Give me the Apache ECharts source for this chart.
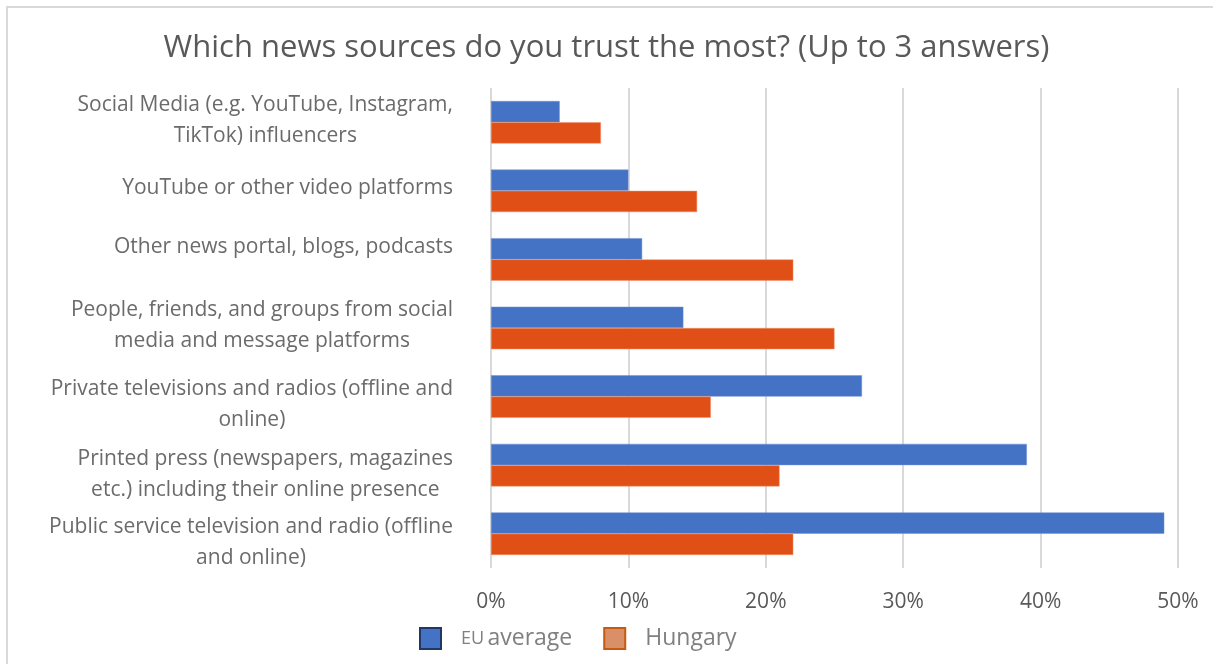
<!DOCTYPE html>
<html>
<head>
<meta charset="utf-8">
<script src="https://cdn.jsdelivr.net/npm/echarts@6/dist/echarts.min.js"></script>
<style>
html,body{margin:0;padding:0;background:#fff;}
#chart{width:1213px;height:664px;}
</style>
</head>
<body>
<div id="chart"></div>
<script>
const categories = [
  "Social Media (e.g. YouTube, Instagram,\nTikTok) influencers",
  "YouTube or other video platforms",
  "Other news portal, blogs, podcasts",
  "People, friends, and groups from social\nmedia and message platforms",
  "Private televisions and radios (offline and\nonline)",
  "Printed press (newspapers, magazines\netc.) including their online presence",
  "Public service television and radio (offline\nand online)"
];
const euAverage = [5, 10, 11, 14, 27, 39, 49];
const hungary = [8, 15, 22, 25, 16, 21, 22];
const xTicks = [0, 10, 20, 30, 40, 50];
const titleText = "Which news sources do you trust the most? (Up to 3 answers)";

const FONT = "Open Sans";
// layout: small vertical nudges of category labels (as in the original rendering)
const labelNudge = [-2, -3, -12, -2, 8, 9, 9];
const yAxisData = categories.map(function (c, i) {
  const n = labelNudge[i];
  return {
    value: c,
    textStyle: {padding: n >= 0 ? [2 * n, 0, 0, 0] : [0, 0, -2 * n, 0]}
  };
});

const chart = echarts.init(document.getElementById('chart'), null, {renderer: 'canvas'});
chart.setOption({
  backgroundColor: '#ffffff',
  animation: false,
  title: {
    text: titleText,
    left: 'center',
    top: 28,
    textStyle: {fontFamily: FONT, fontSize: 31, fontWeight: 'normal', color: '#595959'}
  },
  graphic: [{
    type: 'rect',
    shape: {x: 7, y: 7, width: 1220, height: 680},
    style: {fill: 'none', stroke: '#d9d9d9', lineWidth: 2},
    silent: true
  }],
  legend: {
    left: 414,
    top: 622,
    itemWidth: 21,
    itemHeight: 21,
    itemGap: 31,
    icon: 'rect',
    data: [
      {name: 'EU average', itemStyle: {color: '#4472c4', borderColor: '#1f3864', borderWidth: 2}},
      {name: 'Hungary', itemStyle: {color: '#d99068', borderColor: '#c55a11', borderWidth: 2}}
    ],
    formatter: function (name) {
      if (name === 'EU average') return '{s|EU} {n|average}';
      return '{n|' + name + '}';
    },
    textStyle: {
      padding: [0, 0, 0, 15],
      rich: {
        s: {fontFamily: FONT, fontSize: 18, color: '#808080'},
        n: {fontFamily: FONT, fontSize: 23, color: '#808080'}
      }
    }
  },
  grid: {left: 491, right: 35, top: 88, bottom: 96, containLabel: false},
  xAxis: {
    type: 'value',
    min: 0,
    max: 50,
    interval: 10,
    axisLine: {show: false},
    axisTick: {show: false},
    splitLine: {show: true, lineStyle: {color: '#d9d9d9', width: 2}},
    axisLabel: {
      margin: 24,
      formatter: function (v) { return xTicks.indexOf(v) >= 0 ? v + '%' : ''; },
      fontFamily: FONT, fontSize: 21, color: '#595959'
    }
  },
  yAxis: {
    type: 'category',
    inverse: true,
    data: yAxisData,
    axisLine: {show: false},
    axisTick: {show: false},
    axisLabel: {
      interval: 0,
      hideOverlap: false,
      margin: 38,
      align: 'right',
      lineHeight: 31,
      formatter: function (v) {
        return v.split('\n').map(function (l) { return '{c|' + l + '}'; }).join('\n');
      },
      rich: {
        c: {align: 'center', fontFamily: FONT, fontSize: 21, color: '#6b6b6b', lineHeight: 31}
      }
    }
  },
  series: [
    {
      name: 'EU average',
      type: 'bar',
      data: euAverage,
      barGap: '0%',
      barCategoryGap: '38%',
      itemStyle: {color: '#4472c4', borderColor: '#6f93d6', borderWidth: 0.5}
    },
    {
      name: 'Hungary',
      type: 'bar',
      data: hungary,
      itemStyle: {color: '#e04f15', borderColor: '#f09070', borderWidth: 0.5}
    }
  ]
});
</script>
</body>
</html>
